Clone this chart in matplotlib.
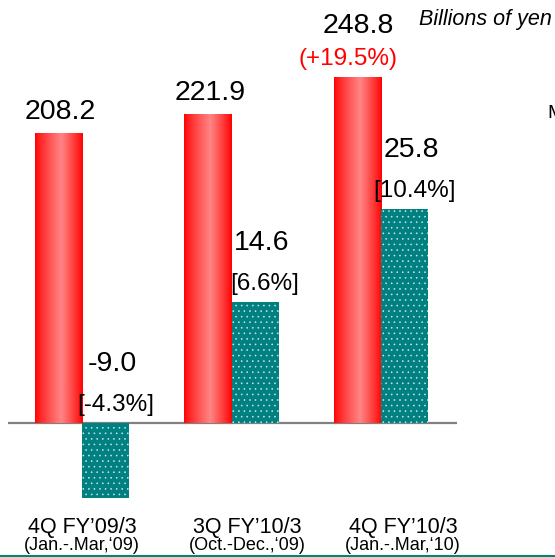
import numpy as np
import matplotlib
matplotlib.use("Agg")
import matplotlib.pyplot as plt
import matplotlib.transforms as mtransforms
from matplotlib.lines import Line2D

plt.rcParams['font.family'] = ['Liberation Sans', 'DejaVu Sans']
plt.rcParams['hatch.linewidth'] = 0.4

# ---- data ----
periods = ["4Q FY\u201909/3", "3Q FY\u201910/3", "4Q FY\u201910/3"]
period_ranges = ["(Jan.-.Mar,\u201809)", "(Oct.-Dec.,\u201809)", "(Jan.-.Mar,\u201810)"]
sales = [208.2, 221.9, 248.8]
sales_change = [None, None, "(+19.5%)"]
op_income = [-9.0, 14.6, 25.8]
op_margin = ["[-4.3%]", "[6.6%]", "[10.4%]"]

W, H = 555, 557
fig = plt.figure(figsize=(W / 100, H / 100), dpi=100)
ax1 = fig.add_axes([8 / W, (H - 510) / H, 449 / W, 500 / H])
ax2 = ax1.twinx()

x = np.arange(len(sales))
w = 0.315
red_x = x - w / 2
teal_x = x + w / 2

# red gradient bars
t = np.linspace(0, 1, 200)
mix = np.where(t < 0.55, 0.52 * (t / 0.55) ** 0.8, 0.52 * ((1 - t) / 0.45) ** 0.9)
grad = np.zeros((1, len(t), 3))
grad[0, :, 0] = 1.0
grad[0, :, 1] = mix
grad[0, :, 2] = mix
bars = ax1.bar(red_x, sales, width=w, color='none', edgecolor='none')
for b in bars:
    x0 = b.get_x()
    ax1.imshow(grad, extent=[x0, x0 + b.get_width(), 0, b.get_height()],
               aspect='auto', zorder=2, interpolation='bilinear')
ax1.set_xlim(-0.495, 2.508)
ax1.set_ylim(-62.6, 297.3)
ax2.set_ylim(-10.48, 49.76)
ax2.set_xlim(ax1.get_xlim())

# baseline
ax1.axhline(0, color='#808080', lw=1.6, zorder=1)

# teal bars (dotted)
ax2.bar(teal_x, op_income, width=w, color='#008080', edgecolor='#cfe8e8',
        hatch='...', linewidth=0, zorder=3)

for a in (ax1, ax2):
    for s in a.spines.values():
        s.set_visible(False)
    a.set_xticks([])
    a.set_yticks([])
    a.patch.set_visible(False)

# red labels
for i, v in enumerate(sales):
    if sales_change[i]:
        ax1.annotate(f"{v:.1f}", (red_x[i], v), xytext=(1, 44), textcoords='offset pixels',
                     ha='center', va='baseline', fontsize=20.5, color='black')
        ax1.annotate(sales_change[i], (red_x[i], v), xytext=(-9, 12), textcoords='offset pixels',
                     ha='center', va='baseline', fontsize=17.5, color='#ff0000')
    else:
        ax1.annotate(f"{v:.1f}", (red_x[i], v), xytext=(2, 15), textcoords='offset pixels',
                     ha='center', va='baseline', fontsize=20.5, color='black')

# teal labels
for i, v in enumerate(op_income):
    top = max(v, 0)
    ax2.annotate(f"{v:.1f}", (teal_x[i], top), xytext=(7, 52), textcoords='offset pixels',
                 ha='center', va='baseline', fontsize=20.5, color='black')
    ax2.annotate(op_margin[i], (teal_x[i], top), xytext=(10, 12), textcoords='offset pixels',
                 ha='center', va='baseline', fontsize=17.5, color='black')

# category labels
label_x = [0.0, 1.104, 2.147]
trans = mtransforms.blended_transform_factory(ax1.transData, fig.transFigure)
for lx, p, r in zip(label_x, periods, period_ranges):
    ax1.text(lx, (H - 527) / H, p, transform=trans, ha='center', va='center', fontsize=15.5)
    ax1.text(lx, (H - 545) / H, r, transform=trans, ha='center', va='center', fontsize=13)

fig.text(419 / W, 1 - 20 / H, "Billions of yen", fontsize=15.5, style='italic',
         ha='left', va='center')
fig.text(547 / W, 1 - 113 / H, "M", fontsize=14, ha='left', va='center')

fig.add_artist(Line2D([0, 1], [1.5 / H, 1.5 / H], color='#00896b', lw=2.2,
                      transform=fig.transFigure))

fig.savefig("out.png", dpi=100)
